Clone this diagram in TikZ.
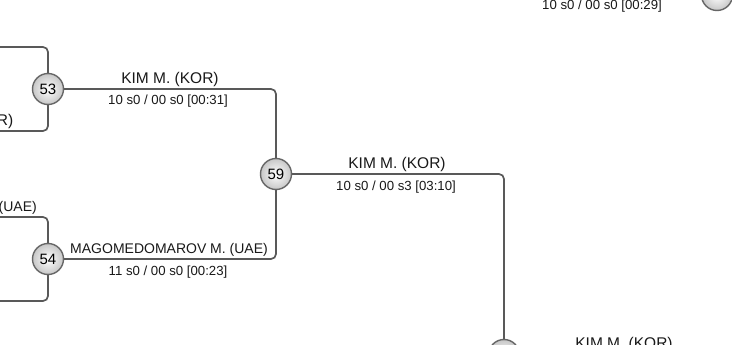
\documentclass[tikz,border=0pt]{standalone}
\usepackage{fontspec}
\setmainfont{Liberation Sans}
\begin{document}
\begin{tikzpicture}[x=1pt,y=-1pt,
  wire/.style={draw=black!65, line width=1.7pt, rounded corners=5pt},
  match/.style={circle, minimum size=31pt, inner sep=0pt, draw=black!60, line width=1.4pt,
    shading=radial, inner color=white, outer color=black!22, font=\fontsize{15}{15}\selectfont},
  upper/.style={anchor=base, font=\fontsize{15.5}{16}\selectfont, text=black!90},
  longname/.style={anchor=base, font=\fontsize{14}{15}\selectfont, text=black!90},
  lower/.style={anchor=base, font=\fontsize{13.2}{14}\selectfont, text=black!90}]
\useasboundingbox (0,0) rectangle (732,345);
\clip (0,0) rectangle (732,345);
\fill[white] (0,0) rectangle (732,345);
% coordinates of free ends
\coordinate (a53t) at (-20,47);
\coordinate (a53b) at (-20,131);
\coordinate (a54t) at (-20,217);
\coordinate (a54b) at (-20,301);
\coordinate (k53) at (276,89);
\coordinate (k54) at (276,259);
\coordinate (k59) at (504,174);
\coordinate (e61) at (760,354);
\coordinate (kTR) at (503,-5);
% wires
\draw[wire] (a53t) -- (48,47) -- (48,89);
\draw[wire] (a53b) -- (48,131) -- (48,89);
\draw[wire] (a54t) -- (48,217) -- (48,259);
\draw[wire] (a54b) -- (48,301) -- (48,259);
\draw[wire] (48,89) -- (k53) -- (276,174);
\draw[wire] (48,259) -- (k54) -- (276,174);
\draw[wire] (276,174) -- (k59) -- (504,354);
\draw[wire] (504,354) -- (e61);
\draw[wire] (kTR) -- (717,-5);
% match circles
\node[match] (m53) at (48,89) {53};
\node[match] (m54) at (48,259) {54};
\node[match] (m59) at (276,174) {59};
\node[match] (m61) at (504,355) {};
\node[match] (mTR) at (717,-5) {};
% labels
\node[upper] (l53a) at (170,83.5) {KIM M. (KOR)};
\node[lower] (l53b) at (168,105) {10 s0 / 00 s0 [00:31]};
\node[longname] (l54a) at (169,253.5) {MAGOMEDOMAROV M. (UAE)};
\node[lower] (l54b) at (168,275) {11 s0 / 00 s0 [00:23]};
\node[upper] (l59a) at (397,168.5) {KIM M. (KOR)};
\node[lower] (l59b) at (396,190) {10 s0 / 00 s3 [03:10]};
\node[upper] (l61a) at (624,348) {KIM M. (KOR)};
\node[lower] (lTRb) at (602,10) {10 s0 / 00 s0 [00:29]};
\node[upper, anchor=base east, inner sep=0pt] (lL1) at (13.5,126) {(KOR)};
\node[upper, anchor=base east, inner sep=0pt, font=\fontsize{14}{15}\selectfont] (lL2) at (37,211.5) {(UAE)};
\end{tikzpicture}
\end{document}
